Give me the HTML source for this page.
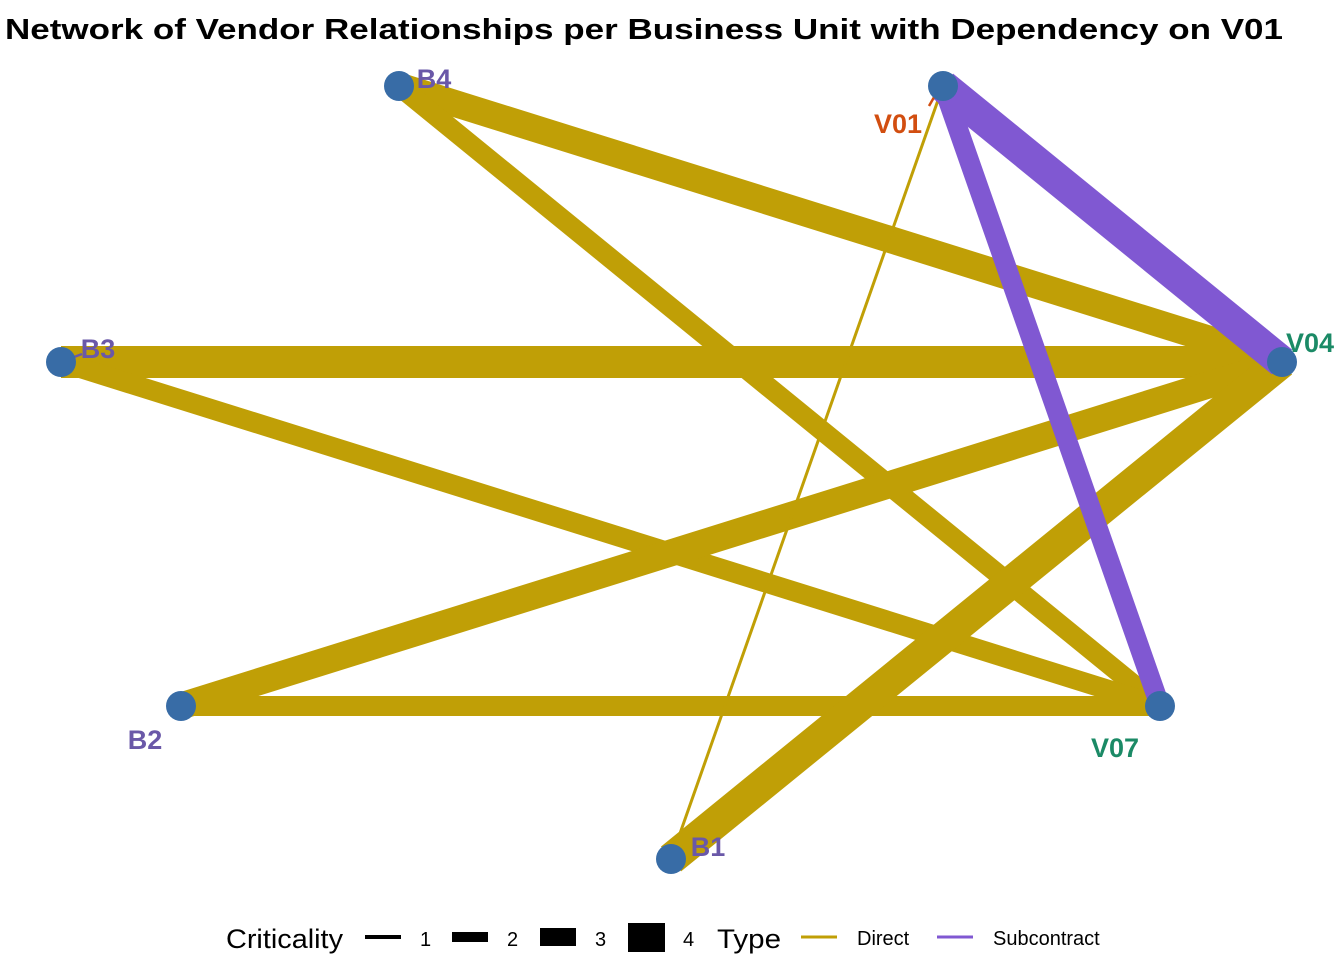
<!DOCTYPE html>
<html><head><meta charset="utf-8"><style>
body{margin:0;background:#fff;font-family:"Liberation Sans",Arial,sans-serif}
svg{display:block}
</style></head><body>
<svg width="1344" height="960" viewBox="0 0 1344 960">
<text x="644" y="39" text-anchor="middle" font-size="29" font-weight="bold" fill="#000" textLength="1278" lengthAdjust="spacingAndGlyphs">Network of Vendor Relationships per Business Unit with Dependency on V01</text>
<g id="edges"></g>
<g id="nodes"></g>
<g font-size="27">
<text x="226" y="948" textLength="117" lengthAdjust="spacingAndGlyphs">Criticality</text>
<rect x="365" y="935" width="36" height="4" fill="#000"/>
<text x="420" y="946" font-size="20">1</text>
<rect x="452" y="932" width="36" height="10" fill="#000"/>
<text x="507" y="946" font-size="20">2</text>
<rect x="540" y="928" width="36" height="18" fill="#000"/>
<text x="595" y="946" font-size="20">3</text>
<rect x="628" y="923" width="37" height="29" fill="#000"/>
<text x="683" y="946" font-size="20">4</text>
<text x="717" y="948" textLength="64" lengthAdjust="spacingAndGlyphs">Type</text>
<line x1="801" y1="937" x2="837" y2="937" stroke="#C09F06" stroke-width="3"/>
<text x="857" y="945" font-size="20">Direct</text>
<line x1="937" y1="937" x2="973" y2="937" stroke="#8058D2" stroke-width="3"/>
<text x="993" y="945" font-size="20">Subcontract</text>
</g>
</svg>
<script>
const nodeNames=["B4","V01","B3","V04","B2","V07","B1"];
const nodeX=[399,943,61,1282,181,1160,671];
const nodeY=[86,86,362,362,706,706,859];
const edgeFrom=["B4","B4","B3","B3","B2","B2","B1","B1","V01","V01"];
const edgeTo=["V04","V07","V04","V07","V04","V07","V04","V01","V04","V07"];
const edgeCrit=[3,2,4,2,3,2,4,1,4,2];
const edgeType=["Direct","Direct","Direct","Direct","Direct","Direct","Direct","Direct","Subcontract","Subcontract"];
const widthScale={1:3,2:20,3:27,4:32};
const colorScale={Direct:"#C09F06",Subcontract:"#8058D2"};
const NS="http://www.w3.org/2000/svg";
const eg=document.getElementById("edges"),ng=document.getElementById("nodes");
function pos(n){const i=nodeNames.indexOf(n);return [nodeX[i],nodeY[i]];}
const order=edgeFrom.map((_,i)=>i).sort((a,b)=>(edgeType[a]==="Subcontract")-(edgeType[b]==="Subcontract"));
order.forEach(i=>{
const [x1,y1]=pos(edgeFrom[i]),[x2,y2]=pos(edgeTo[i]);
const l=document.createElementNS(NS,"line");
l.setAttribute("x1",x1);l.setAttribute("y1",y1);l.setAttribute("x2",x2);l.setAttribute("y2",y2);
l.setAttribute("stroke",colorScale[edgeType[i]]);l.setAttribute("stroke-width",widthScale[edgeCrit[i]]);


eg.appendChild(l);
});
const labelDx={B4:35,V01:-45,B3:37,V04:28,B2:-36,V07:-45,B1:37};
const labelDy={B4:-7,V01:38,B3:-13,V04:-19,B2:34,V07:42,B1:-12};
const labelColor={B4:"#6A58A8",V01:"#D24E10",B3:"#6A58A8",V04:"#1B8A66",B2:"#6A58A8",V07:"#1B8A66",B1:"#6A58A8"};
// leader lines
[[61,362,82,354,"#6A58A8"],[937,92,929,106,"#D24E10"]].forEach(p=>{
const l=document.createElementNS(NS,"line");
l.setAttribute("x1",p[0]);l.setAttribute("y1",p[1]);l.setAttribute("x2",p[2]);l.setAttribute("y2",p[3]);
l.setAttribute("stroke",p[4]);l.setAttribute("stroke-width",2.5);


ng.appendChild(l);
});
nodeNames.forEach((n,i)=>{
const c=document.createElementNS(NS,"circle");
c.setAttribute("cx",nodeX[i]);c.setAttribute("cy",nodeY[i]);c.setAttribute("r",15);c.setAttribute("fill","#386CA6");


ng.appendChild(c);
const t=document.createElementNS(NS,"text");
t.setAttribute("x",nodeX[i]+labelDx[n]);t.setAttribute("y",nodeY[i]+labelDy[n]);
t.setAttribute("text-anchor","middle");t.setAttribute("font-size","27");t.setAttribute("font-weight","bold");
t.setAttribute("dominant-baseline","central");
t.setAttribute("fill",labelColor[n]);
t.textContent=n;


ng.appendChild(t);
});
</script>
</body></html>
